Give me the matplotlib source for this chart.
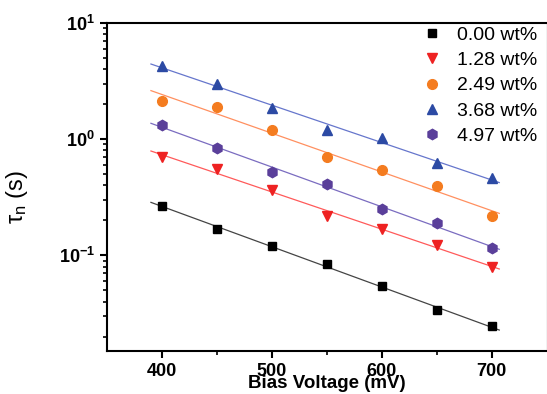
import numpy as np
import matplotlib
matplotlib.use('Agg')
import matplotlib.pyplot as plt
from matplotlib.ticker import FixedLocator, LogLocator, FuncFormatter

plt.rcParams['font.family'] = 'Liberation Sans'
plt.rcParams['mathtext.fontset'] = 'custom'
plt.rcParams['mathtext.rm'] = 'Liberation Sans'
plt.rcParams['mathtext.bf'] = 'Liberation Sans:bold'
plt.rcParams['mathtext.it'] = 'Liberation Sans:italic'

# Data
voltage = [400, 450, 500, 550, 600, 650, 700]
labels = ['0.00 wt%', '1.28 wt%', '2.49 wt%', '3.68 wt%', '4.97 wt%']
tau_000 = [0.266, 0.168, 0.120, 0.0848, 0.0544, 0.0336, 0.0244]
tau_128 = [0.705, 0.551, 0.363, 0.217, 0.167, 0.123, 0.0793]
tau_249 = [2.11, 1.89, 1.196, 0.705, 0.540, 0.393, 0.218]
tau_368 = [4.26, 2.96, 1.87, 1.196, 1.03, 0.625, 0.461]
tau_497 = [1.33, 0.841, 0.526, 0.409, 0.249, 0.191, 0.116]
series = [tau_000, tau_128, tau_249, tau_368, tau_497]

markers = ['s', 'v', 'o', '^', 'h']
sizes = [6, 7.5, 7, 7.5, 7.5]
marker_colors = ['#000000', '#ee2222', '#f47c20', '#2c4aa4', '#5a3f9a']
line_colors = ['#444444', '#ff5a5a', '#ff9060', '#6676cc', '#7a6cc0']
fit_range = [390, 707]

fig = plt.figure(figsize=(5.47, 3.94), dpi=100)
ax = fig.add_axes([0.1956, 0.1091, 0.8035, 0.8325])

for y, lab, m, s, mc, lc in zip(series, labels, markers, sizes, marker_colors, line_colors):
    # linear fit in log space
    k, b = np.polyfit(voltage, np.log10(y), 1)
    xf = np.array(fit_range)
    ax.plot(xf, 10 ** (k * xf + b), color=lc, lw=0.9, zorder=1)
    ax.plot(voltage, y, ls='none', marker=m, ms=s, color=mc, label=lab, zorder=2)

ax.set_yscale('log')
ax.set_xlim(350, 750)
ax.set_ylim(0.015, 10)

ax.xaxis.set_major_locator(FixedLocator([400, 500, 600, 700]))
ax.xaxis.set_minor_locator(FixedLocator([450, 550, 650]))
ax.yaxis.set_major_locator(LogLocator(base=10))
ax.yaxis.set_minor_locator(LogLocator(base=10, subs=np.arange(2, 10)))
ax.yaxis.set_major_formatter(FuncFormatter(lambda v, p: r'$\mathbf{10^{%d}}$' % round(np.log10(v))))
ax.yaxis.set_minor_formatter(FuncFormatter(lambda v, p: ''))

ax.tick_params(which='major', direction='out', length=5, width=1.5, labelsize=13)
ax.tick_params(which='minor', direction='out', length=3, width=1.2)
for lbl in ax.get_xticklabels():
    lbl.set_fontweight('bold')
for sp in ax.spines.values():
    sp.set_linewidth(1.5)
ax.spines['right'].set_linewidth(0.8)

ax.set_xlabel('Bias Voltage (mV)', fontsize=13.5, fontweight='bold', labelpad=-3.5)
ax.set_ylabel('τ$_\\mathregular{n}$ (s)', fontsize=17)
ax.yaxis.set_label_coords(-0.175, 0.47)

ax.legend(loc='upper right', bbox_to_anchor=(1.005, 1.025), frameon=False, fontsize=14,
          handletextpad=0.7, labelspacing=0.39, borderaxespad=0.2, handlelength=1.2)

fig.savefig('out.png', dpi=100)
